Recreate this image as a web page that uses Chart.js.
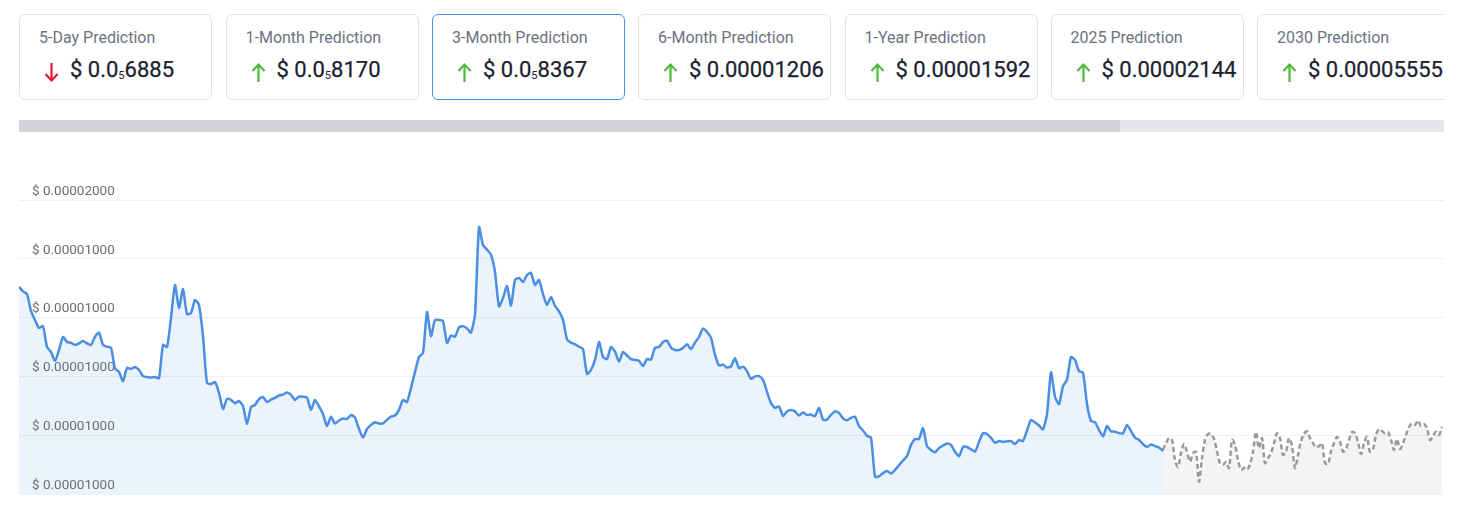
<!DOCTYPE html>
<html>
<head>
<meta charset="utf-8">
<script src="https://cdn.jsdelivr.net/npm/chart.js@4/dist/chart.umd.min.js"></script>
<style>
html,body{margin:0;padding:0;background:#fff;width:1458px;height:506px;overflow:hidden;font-family:Roboto,"Noto Sans",sans-serif;}
#cards{position:absolute;left:19px;top:14px;width:1425px;height:87px;overflow:hidden;}
.card{position:absolute;top:0;width:193px;height:86px;box-sizing:border-box;border:1px solid #e1e3e8;border-radius:6px;background:#fff;}
.card.active{border-color:#4a90e2;}
.card .t{position:absolute;left:19px;top:13px;font-size:16px;line-height:19px;color:#6b7280;white-space:nowrap;}
.card .v{position:absolute;left:50px;top:42px;font-size:22px;line-height:26px;color:#1a2130;font-weight:400;white-space:nowrap;-webkit-text-stroke:0.25px #1a2130;}
.card .v sub{font-size:11px;vertical-align:baseline;position:relative;top:2px;-webkit-text-stroke:0;}
.card svg{position:absolute;left:23px;top:47px;}
#scroll{position:absolute;left:19px;top:120px;width:1425px;height:12px;background:#e6e6eb;}
#thumb{position:absolute;left:0;top:0;width:1101px;height:12px;background:#d2d2d7;}
#wrap{position:absolute;left:19px;top:170px;width:1425px;height:330px;}
</style>
</head>
<body>
<div id="cards"></div>
<div id="scroll"><div id="thumb"></div></div>
<div id="wrap"><canvas id="c" width="1425" height="330"></canvas></div>
<script>
// ---- data ----
const predictionTitles = ['5-Day Prediction','1-Month Prediction','3-Month Prediction','6-Month Prediction','1-Year Prediction','2025 Prediction','2030 Prediction'];
const predictionPrices = [0.000006885, 0.00000817, 0.000008367, 0.00001206, 0.00001592, 0.00002144, 0.00005555];
const predictionTrend = ['down','up','up','up','up','up','up'];
const activeCard = 2;

// y axis in micro-USD
const tickValues = [5, 7, 9, 11, 13, 15];
const tickLabels = ['$ 0.00001000','$ 0.00001000','$ 0.00001000','$ 0.00001000','$ 0.00001000','$ 0.00002000'];

// historical price (micro-USD), one value per day
const actualPriceMicroUsd = [
12.05, 11.89, 11.80, 11.22, 10.92, 10.65, 10.71, 10.00, 9.83, 9.53,
9.90, 10.34, 10.17, 10.14, 10.07, 10.12, 10.20, 10.12, 10.07, 10.35,
10.49, 10.07, 10.01, 9.98, 9.27, 9.15, 8.84, 9.29, 9.25, 9.32,
9.22, 9.01, 8.98, 8.96, 8.98, 8.94, 10.07, 10.00, 10.99, 12.11,
11.33, 11.97, 11.12, 11.16, 11.60, 11.43, 10.37, 8.78, 8.74, 8.81,
8.44, 7.89, 8.23, 8.20, 8.09, 8.16, 7.99, 7.38, 7.96, 8.03,
8.23, 8.30, 8.13, 8.21, 8.27, 8.35, 8.38, 8.45, 8.37, 8.20,
8.31, 8.31, 8.28, 7.86, 8.20, 7.98, 7.72, 7.31, 7.63, 7.40,
7.50, 7.57, 7.55, 7.69, 7.60, 7.21, 6.92, 7.21, 7.35, 7.44,
7.40, 7.40, 7.52, 7.63, 7.67, 7.86, 8.20, 8.13, 8.61, 9.15,
9.66, 9.80, 11.19, 10.37, 10.92, 10.92, 10.88, 10.14, 10.39, 10.35,
10.67, 10.71, 10.63, 10.49, 11.11, 14.08, 13.47, 13.31, 13.14, 12.55,
11.38, 11.67, 12.07, 11.41, 12.28, 12.35, 12.21, 12.45, 12.52, 12.11,
12.28, 11.80, 11.43, 11.70, 11.40, 11.21, 10.92, 10.26, 10.15, 10.09,
10.01, 9.93, 9.08, 9.22, 9.56, 10.17, 9.66, 9.59, 10.00, 9.84,
9.50, 9.83, 9.71, 9.59, 9.56, 9.53, 9.35, 9.59, 9.57, 9.97,
10.00, 10.17, 10.22, 9.98, 9.90, 9.90, 9.97, 10.09, 9.93, 10.15,
10.34, 10.63, 10.51, 10.31, 9.73, 9.37, 9.40, 9.30, 9.34, 9.62,
9.28, 9.33, 9.18, 8.92, 9.00, 9.01, 8.88, 8.48, 8.09, 7.93,
7.98, 7.65, 7.81, 7.86, 7.81, 7.67, 7.77, 7.69, 7.70, 7.65,
7.93, 7.53, 7.53, 7.69, 7.81, 7.76, 7.57, 7.51, 7.59, 7.63,
7.31, 7.16, 6.98, 6.92, 5.59, 5.60, 5.71, 5.78, 5.70, 5.82,
5.98, 6.14, 6.29, 6.67, 6.87, 6.87, 7.24, 6.63, 6.50, 6.42,
6.56, 6.65, 6.72, 6.67, 6.44, 6.28, 6.60, 6.60, 6.52, 6.44,
6.77, 7.07, 7.04, 6.91, 6.74, 6.80, 6.77, 6.79, 6.80, 6.70,
6.84, 6.80, 7.16, 7.52, 7.43, 7.33, 7.20, 7.72, 9.14, 8.31,
8.06, 8.67, 8.89, 9.66, 9.56, 9.18, 9.13, 8.06, 7.48, 7.44,
7.18, 6.96, 7.31, 7.13, 7.12, 7.07, 7.06, 7.35, 7.14, 6.92,
6.84, 6.70, 6.60, 6.68, 6.63, 6.58, 6.46
];

// forecast price (micro-USD), starting at the last historical day, every 0.75 day
const forecastStartDay = 286;
const forecastStepDays = 0.75;
const forecastPriceMicroUsd = [
6.50, 6.73, 6.90, 6.84, 6.16, 5.92, 6.39, 6.70, 6.43, 6.10,
6.39, 6.43, 5.42, 6.22, 6.84, 7.04, 7.04, 6.87, 6.46, 6.04,
5.99, 6.09, 5.88, 6.84, 6.67, 6.16, 5.82, 5.89, 5.82, 6.01,
6.43, 7.11, 6.56, 6.90, 6.05, 6.22, 6.39, 6.73, 7.07, 6.90,
6.33, 6.44, 6.90, 6.63, 5.88, 6.33, 6.80, 7.04, 7.14, 6.91,
6.73, 6.58, 6.63, 6.73, 6.05, 6.02, 6.46, 6.73, 6.94, 6.78,
6.44, 6.53, 6.84, 7.11, 7.07, 6.77, 6.36, 6.73, 6.94, 6.43,
6.53, 7.01, 7.21, 7.14, 7.07, 7.11, 6.84, 6.50, 6.87, 6.53,
6.73, 7.01, 7.28, 7.40, 7.35, 7.50, 7.31, 7.38, 7.24, 6.84,
6.97, 7.12, 7.01, 7.28
];
const lastDay = 356.25;

// ---- cards ----
function formatPrice(p){
  if (p < 0.00001){
    const zeros = -Math.floor(Math.log10(p)) - 1;
    const sig = Math.round(p * Math.pow(10, zeros + 4));
    return '$ 0.0<sub>' + zeros + '</sub>' + sig;
  }
  return '$ ' + p.toFixed(8);
}
function arrowSvg(dir){
  const col = dir === 'up' ? '#4cb93a' : '#e5172e';
  const path = dir === 'up'
    ? '<line x1="8.5" y1="3" x2="8.5" y2="20"/><polyline points="2.5,9 8.5,2.5 14.5,9"/>'
    : '<line x1="8.5" y1="1" x2="8.5" y2="18"/><polyline points="2.5,12 8.5,18.5 14.5,12"/>';
  return '<svg width="17" height="21" viewBox="0 0 17 21" fill="none" stroke="' + col + '" stroke-width="2.2">' + path + '</svg>';
}
const cardLefts = [0, 206.5, 413, 619, 825.5, 1031.5, 1238];
const cardsEl = document.getElementById('cards');
predictionTitles.forEach((t, i) => {
  const d = document.createElement('div');
  d.className = 'card' + (i === activeCard ? ' active' : '');
  d.style.left = cardLefts[i] + 'px';
  d.innerHTML = '<div class="t">' + t + '</div>' + arrowSvg(predictionTrend[i]) + '<div class="v">' + formatPrice(predictionPrices[i]) + '</div>';
  cardsEl.appendChild(d);
});

// ---- chart ----
const actualPoints = actualPriceMicroUsd.map((v, i) => ({x: i, y: v}));
const forecastPoints = forecastPriceMicroUsd.map((v, j) => ({x: forecastStartDay + j * forecastStepDays, y: v}));

new Chart(document.getElementById('c').getContext('2d'), {
  type: 'line',
  data: {
    datasets: [
      { data: actualPoints, borderColor: '#4a8fe2', backgroundColor: 'rgba(74,143,226,0.11)', fill: 'start',
        borderWidth: 2.5, pointRadius: 0, tension: 0.2 },
      { data: forecastPoints, borderColor: '#9a9a9a', backgroundColor: 'rgba(0,0,0,0.045)', fill: 'start',
        borderWidth: 2.5, borderDash: [5, 3], pointRadius: 0, tension: 0.3 }
    ]
  },
  options: {
    responsive: false, animation: false,
    layout: { padding: { top: 30, bottom: 6, left: 0, right: 0 } },
    plugins: { legend: { display: false }, tooltip: { enabled: false } },
    scales: {
      x: { type: 'linear', min: 0, max: lastDay, display: false },
      y: {
        min: 5, max: 15,
        afterFit: (a) => { a.width = 0; a.paddingTop = 0; a.paddingBottom = 0; a.paddingLeft = 0; a.paddingRight = 0; },
        afterBuildTicks: (a) => { a.ticks = tickValues.map(v => ({ value: v })); },
        grid: { color: '#f0f0f0', drawTicks: false, lineWidth: 1 },
        border: { display: false },
        ticks: { mirror: true, padding: 13, labelOffset: -8.5, color: '#6c6c6c',
          font: { family: 'Roboto', size: 13.5 },
          callback: (v, i) => tickLabels[i] }
      }
    }
  }
});
</script>
</body>
</html>
